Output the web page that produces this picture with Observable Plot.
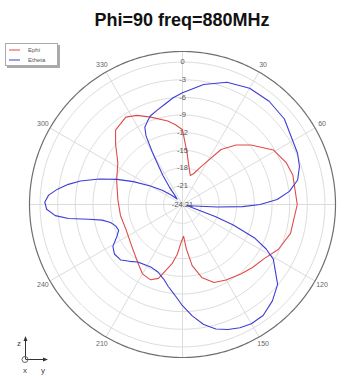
<!DOCTYPE html>
<html><head><meta charset="utf-8">
<script src="https://cdn.jsdelivr.net/npm/d3@7"></script>
<script src="https://cdn.jsdelivr.net/npm/@observablehq/plot@0.6"></script>
<style>
body{margin:0;background:#fff;}
#wrap{position:relative;width:346px;height:376px;overflow:hidden;font-family:"Liberation Sans",Arial,sans-serif;}
#title{height:36px;line-height:40px;text-align:center;padding-left:18px;font-weight:bold;font-size:18px;color:#111;}
#legend{position:absolute;left:5px;top:43px;width:51px;height:21px;border:1px solid #aaa;box-shadow:2px 2px 0 #aaa;background:#fff;}
#icon{position:absolute;left:0;top:330px;}
</style></head><body>
<div id="wrap">
<div id="title"></div>
<div id="chart"></div>
<div id="legend"></div>
<svg id="icon" width="60" height="46" viewBox="0 330 60 46">
  <g stroke="#333" stroke-width="1" fill="none">
    <line x1="25.5" y1="359" x2="25.5" y2="339"/>
    <line x1="25.5" y1="359.5" x2="45" y2="359.5"/>
    <circle cx="25" cy="359.5" r="3" stroke="#666"/>
  </g>
  <path d="M25.5 336 L23.5 341 L27.5 341 Z" fill="#333"/>
  <path d="M48 359.5 L43 357.5 L43 361.5 Z" fill="#333"/>
  <g font-family="Liberation Sans, Arial, sans-serif" font-size="8" fill="#444" text-anchor="middle">
    <text x="19" y="346">z</text>
    <text x="25" y="373">x</text>
    <text x="43" y="373">y</text>
  </g>
</svg>
</div>
<script>
const titleText = "Phi=90 freq=880MHz";
const seriesNames = ["Ephi", "Etheta"];
const seriesColors = ["#e04a4a", "#3d3dd6"];

// Ephi (red): angle in degrees (clockwise from top), gain in dB
const ephiAngle = [0,5,10,15,20,25,30,35,42,49,59,68,75,90,105,115,124,132,140,150,158,165,171,175,178,182,186,190,198,203,210,218,230,246,260,274,290,303,312,318,327,333,340,350,355,360];
const ephiDb    = [-11.5,-15.4,-17.8,-19.1,-18.6,-17.4,-15.7,-12.8,-10.6,-8.8,-6.2,-5.2,-4.8,-4.7,-5.2,-6.2,-7.6,-8.2,-8.8,-9.4,-9.9,-11.3,-13.7,-16.6,-18.8,-17.8,-15.7,-14.0,-11.0,-10.3,-10.6,-11.8,-13.0,-13.7,-13.5,-13.2,-12.3,-11.1,-8.9,-7.2,-6.5,-7.2,-8.4,-9.8,-10.6,-11.5];

// Etheta (blue)
const ethetaAngle = [0,10,20,30,40,50,59,66,72,78,83,87,90,92,94,97,103,108,110,112,115,118,121,130,137,144,150,155,160,165,170,175,180,185,190,194,200,207,213,218,223,228,234,239,244,248,252,256,259,261,263,265,268,271,274,277,280,283,287,291,295,300,305,310,315,319,323,326,328,330,332,334,337,340,345,350,355,360];
const ethetaDb    = [-5.2,-3.5,-2.1,-1.4,-1.3,-1.6,-2.5,-2.8,-3.3,-4.2,-5.9,-8.1,-11.0,-14.0,-18.3,-22.2,-23.4,-22.2,-18.3,-14.9,-10.6,-8.1,-6.2,-3.1,-1.8,-0.9,-0.8,-1.1,-1.6,-2.3,-3.5,-5.2,-7.0,-8.8,-10.1,-11.1,-12.0,-12.3,-12.1,-11.8,-11.0,-10.1,-9.9,-10.4,-11.8,-12.5,-12.3,-11.6,-10.3,-8.1,-4.7,-2.5,-1.1,-0.8,-1.4,-2.8,-4.5,-6.4,-9.4,-12.3,-15.0,-17.9,-20.0,-21.7,-22.9,-22.5,-20.5,-18.3,-16.6,-14.0,-11.0,-9.6,-8.9,-8.2,-7.6,-6.9,-6.0,-5.2];

const angleTicks = [0,30,60,90,120,150,180,210,240,270,300,330];
const dbTicks = [0,-3,-6,-9,-12,-15,-18,-21];
const dbMinLabel = "-24.21";

const DB_MIN = -24.21, DB_MAX = 1.8, OUTER = 30, LABEL_R = 31.6;
const rho = db => (db - DB_MIN) / (DB_MAX - DB_MIN) * OUTER;
const lon = a => 180 - a;
const lat = db => 90 - rho(db);

document.getElementById("title").textContent = titleText;

const rows = [
  ...ephiAngle.map((a, i) => ({series: seriesNames[0], angle: a, db: ephiDb[i]})),
  ...ethetaAngle.map((a, i) => ({series: seriesNames[1], angle: a, db: ethetaDb[i]}))
];
const radialLabels = [...dbTicks.map(d => ({db: d, text: String(d)})), {db: DB_MIN, text: dbMinLabel}];

const chart = Plot.plot({
  width: 346,
  height: 340,
  marginLeft: 29,
  marginRight: 11,
  marginTop: 15,
  marginBottom: 19,
  style: {background: "transparent", overflow: "visible", fontFamily: "Liberation Sans, Arial, sans-serif"},
  projection: {
    type: "azimuthal-equidistant",
    rotate: [0, -90],
    domain: d3.geoCircle().center([0, 90]).radius(OUTER)()
  },
  color: {domain: seriesNames, range: seriesColors},
  marks: [
    Plot.geo(dbTicks.map(d => d3.geoCircle().center([0, 90]).radius(rho(d)).precision(1)()), {stroke: "#dcdcdc", strokeWidth: 1}),
    Plot.link(angleTicks, {x1: a => lon(a), y1: 90, x2: a => lon(a), y2: 90 - OUTER, stroke: "#dcdcdc", strokeWidth: 1}),
    Plot.geo([d3.geoCircle().center([0, 90]).radius(OUTER).precision(1)()], {stroke: "#6f6f6f", strokeWidth: 1.2}),
    Plot.line(rows, {x: d => lon(d.angle), y: d => lat(d.db), z: "series", stroke: "series", strokeWidth: 1.1}),
    Plot.text(angleTicks, {x: a => lon(a), y: 90 - LABEL_R, text: a => String(a), fontSize: 7, fill: "#666"}),
    Plot.text(radialLabels, {x: lon(0), y: d => lat(d.db), text: "text", fontSize: 7.5, fill: "#555"})
  ]
});
document.getElementById("chart").appendChild(chart);

// Legend
const lg = d3.select("#legend").append("svg").attr("width", 51).attr("height", 21);
seriesNames.forEach((name, i) => {
  const y = 6 + i * 10;
  lg.append("line").attr("x1", 3).attr("x2", 14).attr("y1", y).attr("y2", y)
    .attr("stroke", seriesColors[i]).attr("stroke-width", 1);
  lg.append("text").attr("x", 22).attr("y", y + 2).attr("font-size", 6)
    .attr("font-family", "Liberation Sans, Arial, sans-serif").attr("fill", "#555").text(name);
});
</script>
</body></html>
